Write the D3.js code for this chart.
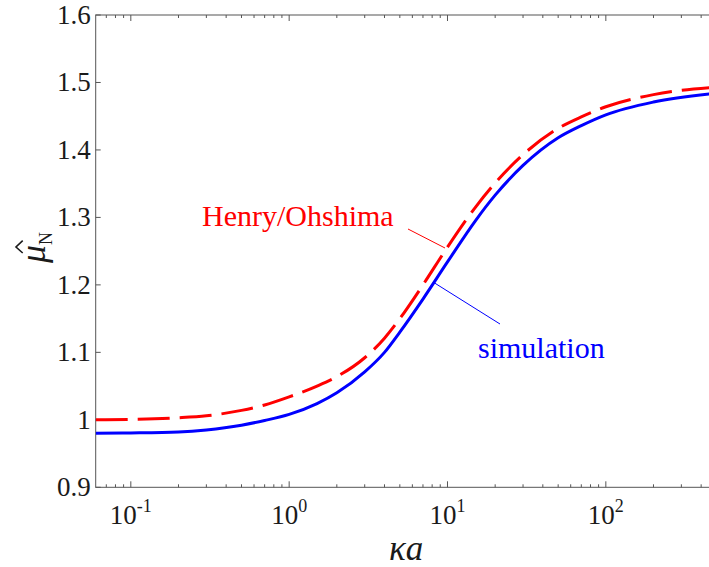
<!DOCTYPE html>
<html>
<head>
<meta charset="utf-8">
<script src="https://cdn.jsdelivr.net/npm/d3@7"></script>
<style>
  body { margin: 0; background: #fff; }
  svg { display: block; }
  text { font-family: "Liberation Serif", "Times New Roman", serif; }
</style>
</head>
<body>
<svg id="chart" width="709" height="567"></svg>
<script>
// values
const kaValues   = [0.06, 0.1, 0.2, 0.3, 0.5, 0.7, 1, 1.5, 2, 3, 4, 5, 7, 10, 15, 20, 30, 50, 70, 100, 200, 500];
const henryValues = [1.000, 1.0005, 1.003, 1.006, 1.014, 1.022, 1.034, 1.050, 1.064, 1.092, 1.121, 1.150, 1.200, 1.256, 1.315, 1.351, 1.393, 1.432, 1.449, 1.464, 1.482, 1.493];
const simValues   = [0.980, 0.9805, 0.982, 0.985, 0.992, 0.999, 1.008, 1.024, 1.040, 1.071, 1.100, 1.130, 1.179, 1.234, 1.295, 1.333, 1.377, 1.418, 1.436, 1.452, 1.471, 1.484];

const yTicks = [0.9, 1, 1.1, 1.2, 1.3, 1.4, 1.5, 1.6];
const yTickLabels = ["0.9", "1", "1.1", "1.2", "1.3", "1.4", "1.5", "1.6"];
const xMajorTicks = [0.1, 1, 10, 100];
const xTickExponents = ["-1", "0", "1", "2"];

const svg = d3.select("#chart");

const plotLeft = 95.7, plotRight = 716.5, plotTop = 15, plotBottom = 487.3;

const x = d3.scaleLog().domain([0.06, 500]).range([plotLeft, plotRight]);
const y = d3.scaleLinear().domain([0.9, 1.6]).range([plotBottom, plotTop]);

// minor ticks 2..9 of each decade inside the domain
const xMinorTicks = [];
[0.01, 0.1, 1, 10, 100].forEach(d => {
    for (let k = 2; k <= 9; k++) {
        const v = d * k;
        if (v > 0.06 && v < 500) xMinorTicks.push(v);
    }
});

const axisColor = "#555";

// clip for curves
svg.append("defs").append("clipPath").attr("id", "plotClip")
    .append("rect")
    .attr("x", plotLeft).attr("y", plotTop)
    .attr("width", plotRight - plotLeft).attr("height", plotBottom - plotTop);

// frame
svg.append("rect")
    .attr("x", plotLeft).attr("y", plotTop)
    .attr("width", plotRight - plotLeft).attr("height", plotBottom - plotTop)
    .attr("fill", "none")
    .attr("stroke", axisColor)
    .attr("stroke-width", 1);

// x ticks (bottom up, top down), y ticks inward
const tickG = svg.append("g").attr("stroke", axisColor).attr("stroke-width", 1);
xMajorTicks.forEach(t => {
    tickG.append("line").attr("x1", x(t)).attr("x2", x(t)).attr("y1", plotBottom).attr("y2", plotBottom - 6);
    tickG.append("line").attr("x1", x(t)).attr("x2", x(t)).attr("y1", plotTop).attr("y2", plotTop + 6);
});
xMinorTicks.forEach(t => {
    tickG.append("line").attr("x1", x(t)).attr("x2", x(t)).attr("y1", plotBottom).attr("y2", plotBottom - 3);
    tickG.append("line").attr("x1", x(t)).attr("x2", x(t)).attr("y1", plotTop).attr("y2", plotTop + 3);
});
yTicks.forEach(t => {
    tickG.append("line").attr("x1", plotLeft).attr("x2", plotLeft + 5).attr("y1", y(t)).attr("y2", y(t));
    tickG.append("line").attr("x1", plotRight).attr("x2", plotRight - 5).attr("y1", y(t)).attr("y2", y(t));
});

// y tick labels
svg.append("g")
    .selectAll("text")
    .data(yTicks)
    .enter()
    .append("text")
    .attr("x", plotLeft - 5)
    .attr("y", d => y(d) + 9)
    .attr("text-anchor", "end")
    .attr("font-size", "27px")
    .attr("fill", "#1a1a1a")
    .text((d, i) => yTickLabels[i]);

// x tick labels 10^n
xMajorTicks.forEach((t, i) => {
    const lbl = svg.append("text")
        .attr("x", x(t))
        .attr("y", plotBottom + 37)
        .attr("text-anchor", "middle")
        .attr("font-size", "27px")
        .attr("fill", "#1a1a1a");
    lbl.append("tspan").text("10");
    lbl.append("tspan").attr("dy", -12).attr("font-size", "18px").text(xTickExponents[i]);
});

// axis labels
svg.append("text")
    .attr("x", (plotLeft + plotRight) / 2)
    .attr("y", 560)
    .attr("text-anchor", "middle")
    .attr("font-size", "35px")
    .attr("font-style", "italic")
    .attr("fill", "#1a1a1a")
    .text("κa");

const yLab = svg.append("g").attr("transform", "translate(45,263) rotate(-90)");
const yText = yLab.append("text").attr("x", 0).attr("y", 0).attr("fill", "#1a1a1a");
yText.append("tspan").attr("font-size", "36px").attr("font-style", "italic").text("μ");
yText.append("tspan").attr("font-size", "18px").attr("dy", 7).text("N");
yLab.append("path")
    .attr("d", "M10,-22.3 L16,-29 L22.3,-22.3")
    .attr("fill", "none")
    .attr("stroke", "#1a1a1a")
    .attr("stroke-width", 1.6);

// curves
const curveLine = d3.line()
    .x((d, i) => x(kaValues[i]))
    .y(d => y(d))
    .curve(d3.curveMonotoneX);

const curves = svg.append("g").attr("clip-path", "url(#plotClip)");

curves.append("path")
    .datum(henryValues)
    .attr("d", curveLine)
    .attr("fill", "none")
    .attr("stroke", "#ff0000")
    .attr("stroke-width", 3)
    .attr("stroke-dasharray", "32,10");

curves.append("path")
    .datum(simValues)
    .attr("d", curveLine)
    .attr("fill", "none")
    .attr("stroke", "#0000ff")
    .attr("stroke-width", 3);

// annotations
svg.append("line")
    .attr("x1", 408).attr("y1", 229)
    .attr("x2", 445).attr("y2", 248)
    .attr("stroke", "#ff0000").attr("stroke-width", 1);
svg.append("text")
    .attr("x", 202).attr("y", 226)
    .attr("font-size", "30px")
    .attr("fill", "#ff0000")
    .text("Henry/Ohshima");

svg.append("line")
    .attr("x1", 433).attr("y1", 282)
    .attr("x2", 500).attr("y2", 324)
    .attr("stroke", "#0000ff").attr("stroke-width", 1);
svg.append("text")
    .attr("x", 478).attr("y", 358)
    .attr("font-size", "30px")
    .attr("fill", "#0000ff")
    .text("simulation");
</script>
</body>
</html>
